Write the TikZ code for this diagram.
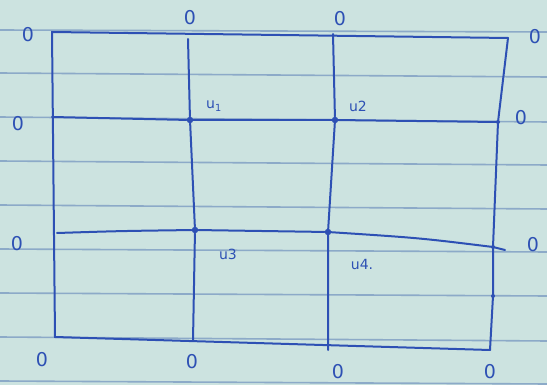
\documentclass[tikz,border=0pt]{standalone}
\usepackage{fontspec}
\newfontfamily\hand{DejaVu Sans}
\definecolor{paper}{RGB}{204,227,224}
\definecolor{rule}{RGB}{140,170,200}
\definecolor{ink}{RGB}{45,80,180}
\tikzset{
  ruling/.style={draw=rule, line width=1.6pt},
  inkline/.style={draw=ink, line width=2pt, line cap=round},
  zero/.style={text=ink, font=\hand\fontsize{19}{19}\selectfont, inner sep=0pt},
  ulabel/.style={text=ink, font=\hand\fontsize{14}{14}\selectfont, inner sep=0pt},
  dot/.style={circle, fill=ink, inner sep=0pt, minimum size=6.5pt},
  sdot/.style={circle, fill=ink, inner sep=0pt, minimum size=4pt}
}
\begin{document}
\begin{tikzpicture}[x=1pt,y=-1pt]
\useasboundingbox (0,0) rectangle (547,385);
\fill[paper] (0,0) rectangle (547,385);
% ruled paper lines
\foreach \y/\d in {30/2,73/4,117/5,161/4,205/4,249/3,293/3,337/4,381/3}
  \draw[ruling] (0,\y) -- (547,\y+\d);
% grid corner and crossing points
\coordinate (TL) at (52,32);
\coordinate (T1) at (188,39);
\coordinate (T2) at (333,34);
\coordinate (TR) at (508,38);
\coordinate (L1) at (52,117);
\coordinate (L2) at (57,233);
\coordinate (R1) at (498,122);
\coordinate (R2) at (493,247);
\coordinate (R3) at (493,296);
\coordinate (BL) at (55,337);
\coordinate (B1) at (193,341);
\coordinate (B2) at (328,350);
\coordinate (BR) at (490,350);
\node[dot] (u1) at (190,120) {};
\node[dot] (u2) at (335,120) {};
\node[dot] (u3) at (195,230) {};
\node[dot] (u4) at (328,232) {};
\node[sdot] (r1) at (R1) {};
\node[sdot] (r2) at (R2) {};
\node[sdot] (r3) at (R3) {};
% grid lines
\draw[inkline] (TL) -- (TR);
\draw[inkline] (TL) -- (BL) -- (BR);
\draw[inkline] (TR) -- (R1) -- (R2) -- (R3) -- (BR);
\draw[inkline] (T1) -- (u1) -- (u3) -- (B1);
\draw[inkline] (T2) -- (u2) -- (u4) -- (B2);
\draw[inkline] (L1) -- (u1) -- (u2) -- (R1);
\draw[inkline] (L2) .. controls (120,231) .. (u3) -- (u4) .. controls (420,238) .. (R2) -- (505,250);
\draw[inkline] (TL) -- ++(0,6);
% labels
\node[ulabel] (lu1) at (214,106) {u\textsubscript{1}};
\node[ulabel] (lu2) at (358,106) {u2};
\node[ulabel] (lu3) at (228,254) {u3};
\node[ulabel] (lu4) at (362,264) {u4.};
% boundary zeros
\node[zero] (z1) at (28,35) {0};
\node[zero] (z2) at (190,18) {0};
\node[zero] (z3) at (340,19) {0};
\node[zero] (z4) at (535,37) {0};
\node[zero] (z5) at (18,124) {0};
\node[zero] (z6) at (521,118) {0};
\node[zero] (z7) at (17,244) {0};
\node[zero] (z8) at (533,245) {0};
\node[zero] (z9) at (42,360) {0};
\node[zero] (z10) at (192,362) {0};
\node[zero] (z11) at (338,372) {0};
\node[zero] (z12) at (490,372) {0};
\end{tikzpicture}
\end{document}
